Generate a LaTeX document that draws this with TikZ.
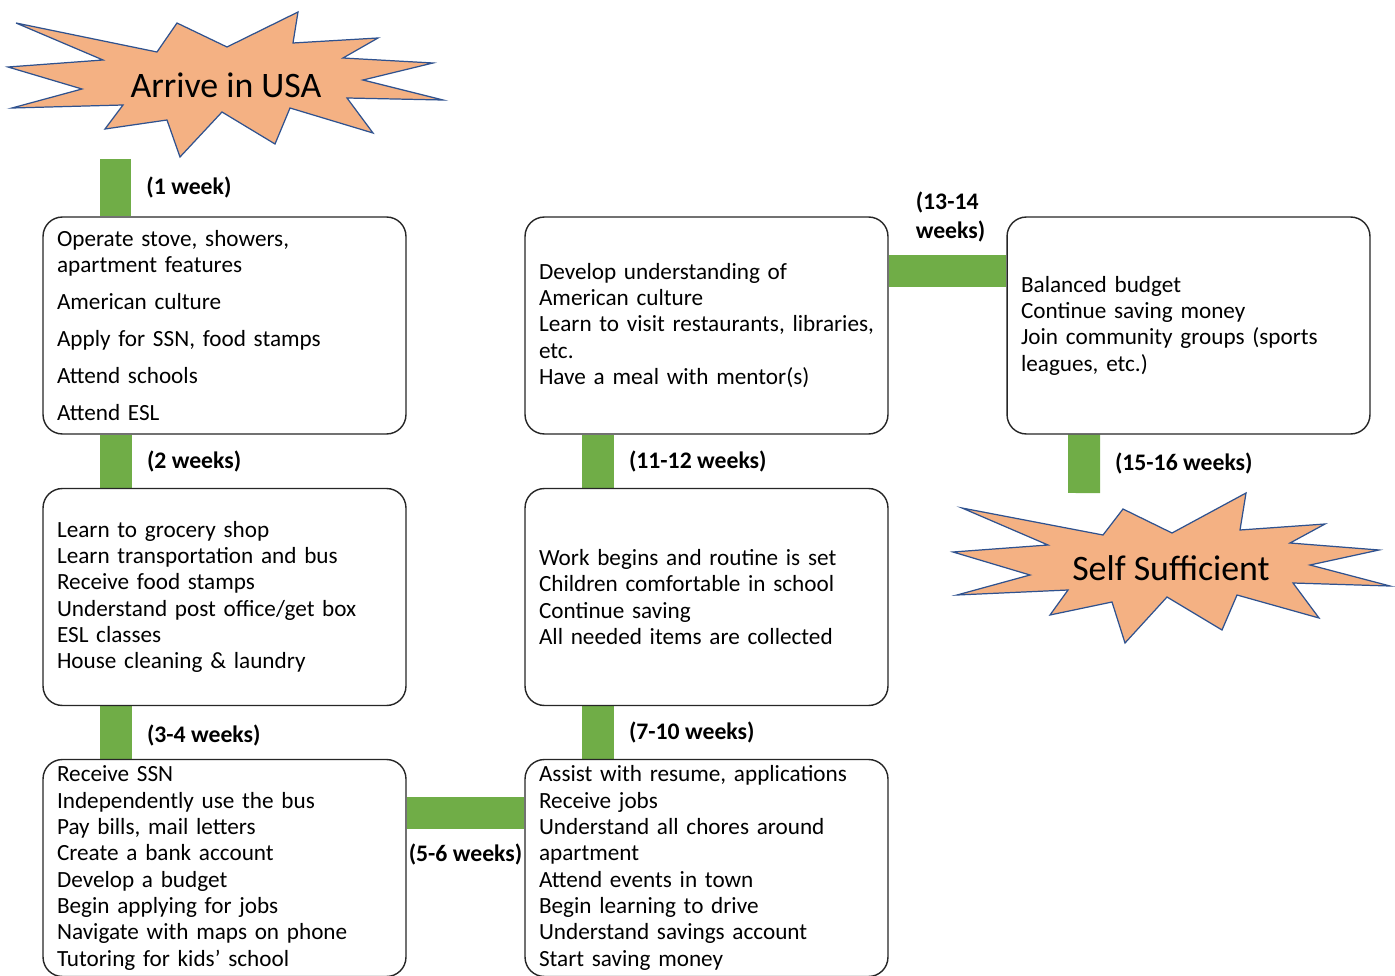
\documentclass[tikz,border=0pt]{standalone}
\usepackage{fontspec}
\setmainfont{Carlito}
\usepackage{tikz}
\usetikzlibrary{positioning, backgrounds}

\definecolor{barGreen}{HTML}{70AD47}
\definecolor{burstFill}{HTML}{F4B183}
\definecolor{burstLine}{HTML}{2F528F}

\begin{document}
\begin{tikzpicture}[
    x=0.02cm, y=-0.02cm,
    stepbox/.style={rectangle, draw=black!85, fill=white, line width=0.8pt, rounded corners=11pt, minimum width=7.26cm, minimum height=4.34cm, text width=6.7cm, inner xsep=0.28cm, inner ysep=2pt, align=left, font=\fontsize{13.2pt}{15pt}\selectfont},
    burst/.style={draw=burstLine, fill=burstFill, line width=0.7pt, line join=miter},
    bursttext/.style={font=\fontsize{20.4pt}{23pt}\selectfont, inner sep=0pt},
    greenbar/.style={draw=barGreen, line width=0.64cm},
    duration/.style={font=\bfseries\fontsize{13.5pt}{16.5pt}\selectfont, inner sep=0pt, align=left}
]
\useasboundingbox (0,0) rectangle (1395,976);

% Start and goal bursts
\draw[burst] (16,23) -- (157,52) -- (177,23) -- (227,47) -- (298,12) -- (293,43) -- (378,38) -- (343,58) -- (433,63) -- (363,80) -- (443,100) -- (347,98) -- (373,133) -- (290,108) -- (275,144) -- (222,112) -- (180,157) -- (167,120) -- (105,129) -- (123,105) -- (12,108) -- (82,89) -- (8,67) -- (103,60) -- cycle;
\node[bursttext] (arrive) at (226,85) {Arrive in USA};

\draw[burst] (962,508) -- (1103,535) -- (1123,509) -- (1172,533) -- (1246,493) -- (1240,530) -- (1325,524) -- (1290,543) -- (1379,550) -- (1310,565) -- (1390,586) -- (1293,583) -- (1319,618) -- (1237,595) -- (1222,630) -- (1167,597) -- (1125,643) -- (1112,602) -- (1050,615) -- (1068,590) -- (957,595) -- (1030,575) -- (953,552) -- (1048,545) -- cycle;
\node[bursttext] (sufficient) at (1171,568) {Self Sufficient};

\coordinate (arrive-foot) at (115.5,159);
\coordinate (sufficient-top) at (1084,493);

% Left column
\node[stepbox] (week1) at (224.5,325.5) {Operate stove, showers,\\apartment features\\[6pt]American culture\\[6pt]Apply for SSN, food stamps\\[6pt]Attend schools\\[6pt]Attend ESL};
\node[stepbox] (week2) at (224.5,597) {Learn to grocery shop\\Learn transportation and bus\\Receive food stamps\\Understand post office/get box\\ESL classes\\House cleaning \& laundry};
\node[stepbox] (week34) at (224.5,868) {Receive SSN\\Independently use the bus\\Pay bills, mail letters\\Create a bank account\\Develop a budget\\Begin applying for jobs\\Navigate with maps on phone\\Tutoring for kids’ school};

% Middle column
\node[stepbox] (week56) at (706.5,868) {Assist with resume, applications\\Receive jobs\\Understand all chores around\\apartment\\Attend events in town\\Begin learning to drive\\Understand savings account\\Start saving money};
\node[stepbox] (week710) at (706.5,597) {Work begins and routine is set\\Children comfortable in school\\Continue saving\\All needed items are collected};
\node[stepbox] (week1112) at (706.5,325.5) {Develop understanding of\\American culture\\Learn to visit restaurants, libraries,\\etc.\\Have a meal with mentor(s)};

% Right column
\node[stepbox] (week1314) at (1188.5,325.5) {Balanced budget\\Continue saving money\\Join community groups (sports\\leagues, etc.)};

% Green time bars
\begin{scope}[on background layer]
\draw[greenbar] (arrive-foot) -- node[duration, right=0.3cm] {(1 week)} (week1.north -| arrive-foot);
\draw[greenbar] ([xshift=-2.17cm]week1.south) -- node[duration, right=0.3cm] {(2 weeks)} ([xshift=-2.17cm]week2.north);
\draw[greenbar] ([xshift=-2.17cm]week2.south) -- node[duration, right=0.3cm, yshift=-0.05cm] {(3-4 weeks)} ([xshift=-2.17cm]week34.north);
\draw[greenbar] ([yshift=1.1cm]week34.east) -- node[duration, below=0.3cm] {(5-6 weeks)} ([yshift=1.1cm]week56.west);
\draw[greenbar] ([xshift=-2.17cm]week56.north) -- node[duration, right=0.3cm] {(7-10 weeks)} ([xshift=-2.17cm]week710.south);
\draw[greenbar] ([xshift=-2.17cm]week710.north) -- node[duration, right=0.3cm] {(11-12 weeks)} ([xshift=-2.17cm]week1112.south);
\draw[greenbar] ([yshift=1.1cm]week1112.east) -- node[duration, above=0.24cm, xshift=0.06cm] {(13-14\\weeks)} ([yshift=1.1cm]week1314.west);
\draw[greenbar] ([xshift=-2.09cm]week1314.south) -- node[duration, right=0.3cm] {(15-16 weeks)} (sufficient-top);
\end{scope}

\end{tikzpicture}
\end{document}
